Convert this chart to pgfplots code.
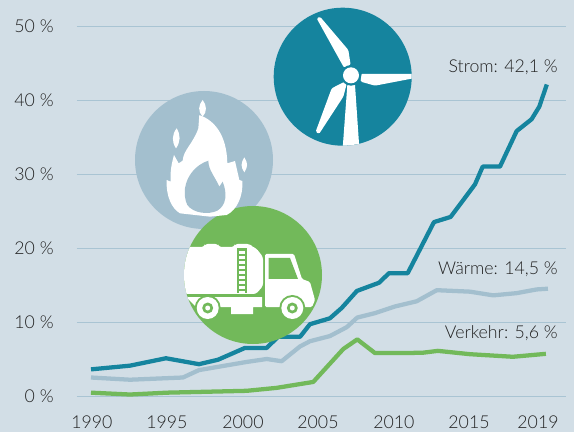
\documentclass[border=0pt]{standalone}
\usepackage{pgfplots}
\pgfplotsset{compat=1.18}
\usepackage{fontspec}
\setmainfont{Lato Light}
\definecolor{bg}{HTML}{D2DEE6}
\definecolor{teal}{HTML}{15849E}
\definecolor{hell}{HTML}{A3BFCE}
\definecolor{gruen}{HTML}{72B95A}
\definecolor{gridc}{HTML}{A9C4D3}
\definecolor{txt}{HTML}{222222}
\begin{document}
\begin{tikzpicture}[x=0.75pt,y=0.75pt]
\path[use as bounding box,fill=bg] (0,0) rectangle (574,432);
\begin{axis}[
  at={(57.75pt,27pt)},anchor=south west,
  scale only axis,width=366.75pt,height=277.5pt,
  xmin=1989.11,xmax=2020.22,ymin=0,ymax=50,
  clip=false,
  axis line style={draw=none},
  major tick length=0pt,
  ytick={0,10,20,30,40,50},
  ymajorgrids,
  grid style={gridc,line width=0.75pt},
  xtick={1990.06,1994.83,1999.67,2004.44,2009.27,2014.05,2018.44},
  xticklabels={1990,1995,2000,2005,2010,2015,2019},
  yticklabel={\pgfmathprintnumber{\tick} \%},
  /pgf/number format/assume math mode=true,
  tick label style={font=\fontsize{13.3}{15}\selectfont,text=txt},
  yticklabel style={xshift=-14pt},
  xticklabel style={yshift=-11pt},
  line join=round,
]
\addplot[hell,line width=3.2pt] coordinates {
(1990,2.5)(1992.48,2.2)(1995.85,2.5)(1996.87,3.5)(1999.90,4.6)(2001.18,5.0)(2002.13,4.7)(2003.30,6.7)(2003.93,7.4)(2005.20,8.1)(2006.27,9.3)(2006.94,10.6)(2008.07,11.2)(2009.34,12.1)(2010.72,12.8)(2012.0,14.3)(2014.11,14.1)(2015.59,13.6)(2017.08,13.9)(2018.35,14.4)(2019.07,14.5)};
\addplot[gruen,line width=3.2pt] coordinates {
(1990,0.45)(1992.48,0.2)(1994.82,0.45)(1999.9,0.7)(2001.81,1.1)(2004.14,1.9)(2006.05,6.35)(2006.94,7.65)(2008.07,5.8)(2009.85,5.8)(2011.12,5.85)(2012.07,6.1)(2014.11,5.65)(2016.84,5.3)(2018.94,5.7)};
\addplot[teal,line width=3.2pt] coordinates {
(1990,3.6)(1992.48,4.1)(1994.77,5.1)(1996.87,4.3)(1998.08,4.9)(1999.80,6.5)(2001.18,6.5)(2001.90,8.0)(2003.30,8.0)(2003.93,9.7)(2005.20,10.5)(2005.95,11.9)(2006.92,14.2)(2008.32,15.3)(2008.96,16.6)(2010.15,16.6)(2011.82,23.5)(2012.88,24.2)(2014.43,28.6)(2014.92,31.0)(2016.02,31.0)(2017.08,35.8)(2018.03,37.4)(2018.52,39.1)(2019.0,42.1)};
\end{axis}
% all following coordinates: reference pixels, y downwards
\begin{scope}[shift={(0,432)},y=-0.75pt]
\node[anchor=east,inner sep=0,text=txt,font=\fontsize{13.3}{15}\selectfont] at (558,67.5) {Strom: 42,1 \%};
\node[anchor=east,inner sep=0,text=txt,font=\fontsize{13.3}{15}\selectfont] at (558,269.5) {Wärme: 14,5 \%};
\node[anchor=east,inner sep=0,text=txt,font=\fontsize{13.3}{15}\selectfont] at (558,333.5) {Verkehr: 5,6 \%};
\fill[teal] (342.7,76.7) circle[radius=69];
\fill[hell] (204,160) circle[radius=69];
\fill[gruen] (253,275) circle[radius=69];
% blades, flame in zoom coordinates (1/3 pixel)
\begin{scope}[shift={(130,0)},x=0.25pt,y=-0.25pt]
\begin{scope}
\clip (638,230) circle[radius=207];
\fill[white,rounded corners=1pt] (560,55)--(570,50)--(655,150)--(662,195)--(642,203)--cycle;
\fill[white,rounded corners=1pt] (692,222)--(850,222)--(850,235)--(735,257)--(692,245)--cycle;
\fill[white,rounded corners=1pt] (648,243)--(605,265)--(557,395)--(567,402)--(640,290)--(650,252)--cycle;
\fill[white] (652,255)--(675,255)--(688,445)--(638,445)--cycle;
\end{scope}
\fill[teal] (663,226) circle[radius=31];
\fill[white] (663,226) circle[radius=24];
% flame
\fill[white] (150,640) .. controls (125,625) and (108,590) .. (110,540)--(122,545) .. controls (120,515) and (125,490) .. (132,465)--(146,490)--(158,482) .. controls (160,450) and (190,430) .. (205,385)--(208,345) .. controls (250,360) and (290,400) .. (292,490)--(315,483)--(328,540)--(337,543) .. controls (340,590) and (320,630) .. (290,645)--(240,650)--cycle;
\fill[hell] (165,565) .. controls (170,530) and (195,495) .. (235,482) .. controls (235,510) and (255,530) .. (268,560)--(278,545) .. controls (292,580) and (290,615) .. (262,632) .. controls (235,645) and (190,640) .. (172,615) .. controls (165,600) and (163,585) .. (165,565)--cycle;
\fill[white] (218,300) .. controls (205,315) and (203,335) .. (218,350) .. controls (232,335) and (230,315) .. (218,300)--cycle;
\fill[white] (140,385) .. controls (125,405) and (125,425) .. (138,445) .. controls (152,425) and (152,405) .. (140,385)--cycle;
\fill[white] (343,472) .. controls (332,490) and (332,500) .. (343,517) .. controls (354,500) and (354,490) .. (343,472)--cycle;
\end{scope}
% truck
\begin{scope}
\clip (253,275) circle[radius=69];
\fill[white,rounded corners=2pt] (180,247)--(204,247)--(205,244)--(218,244)--(219,247)--(234,247)--(235,244)--(250,244)--(252,247)--(256,248)--(263,257)--(263,286)--(256,294)--(180,294)--cycle;
\fill[gruen] (237,248) rectangle (247,293);
\foreach \y in {251,256,...,291} \fill[white] (239,\y) rectangle (245,\y+3);
\fill[white] (186,297)--(262,297)--(262,307)--(253,307)--(253,314)--(231,314)--(231,307)--(196,307)--cycle;
\fill[white,rounded corners=1pt] (265,254)--(294,254)--(302,279)--(310,282)--(315,300)--(312,307)--(265,307)--cycle;
\fill[gruen] (268.5,258)--(290,258)--(298,279)--(268.5,279)--cycle;
\foreach \x in {207.7,292.3}{
  \fill[gruen] (\x,308) circle[radius=13];
  \fill[white] (\x,308) circle[radius=11];
  \fill[gruen] (\x,308) circle[radius=5.5];
  \fill[white] (\x,308) circle[radius=2.5];
}
\end{scope}
\end{scope}
\end{tikzpicture}
\end{document}
